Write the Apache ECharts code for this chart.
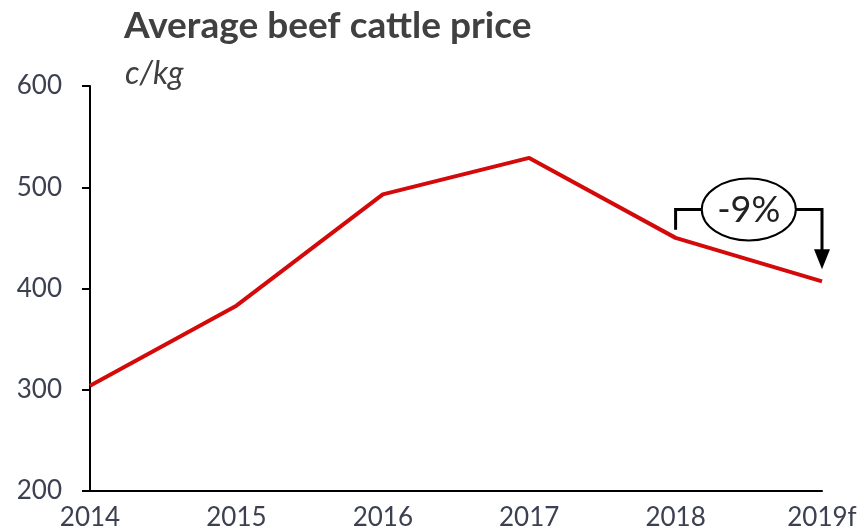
<!DOCTYPE html>
<html><head><meta charset="utf-8">
<script src="https://cdn.jsdelivr.net/npm/echarts@6/dist/echarts.min.js"></script>
<style>html,body{margin:0;padding:0;background:#fff}#c{width:860px;height:531px}</style>
</head><body><div id="c"></div>
<script>
const categories = ['2014','2015','2016','2017','2018','2019f'];
const prices = [304, 383, 493, 529, 450, 407];
const yTicks = [200, 300, 400, 500, 600];
const changeLabel = '-9%';
const bracketLevel = 478;   // c/kg level of bracket
const bracketStart = 458;   // left leg bottom
const arrowTip = 419;       // arrow tip level

const chart = echarts.init(document.getElementById('c'));
const font = 'Lato, "Open Sans", sans-serif';
chart.setOption({
  animation: false,
  backgroundColor: '#fff',
  title: [
    {text: 'Average beef cattle price', left: 119, top: 3,
     textStyle: {fontFamily: font, fontWeight: 'bold', fontSize: 37, color: '#404040'}},
    {text: 'c/kg', left: 120, top: 53,
     textStyle: {fontFamily: font, fontStyle: 'italic', fontWeight: 'normal', fontSize: 32, color: '#404040'}}
  ],
  grid: {left: 90, right: 38, top: 86, bottom: 39, containLabel: false},
  xAxis: {
    type: 'category', data: categories, boundaryGap: false,
    axisLine: {lineStyle: {color: '#000', width: 2}},
    axisTick: {show: false},
    axisLabel: {fontFamily: font, fontSize: 26, color: '#3c4050', margin: 14, interval: 0}
  },
  yAxis: {
    type: 'value', min: yTicks[0], max: yTicks[yTicks.length-1], interval: 100,
    axisLine: {show: true, lineStyle: {color: '#000', width: 2}},
    axisTick: {show: true, length: 8, lineStyle: {color: '#000', width: 2}},
    splitLine: {show: false},
    axisLabel: {fontFamily: font, fontSize: 26, color: '#3c4050', margin: 28}
  },
  series: [{
    type: 'line', data: prices, symbol: 'none',
    lineStyle: {color: '#d40a0a', width: 4}
  }]
});

const p = (i, v) => chart.convertToPixel({xAxisIndex: 0, yAxisIndex: 0}, [i, v]);
const a = p(4, bracketLevel), a0 = p(4, bracketStart);
const b = p(5, bracketLevel), bt = p(5, arrowTip);
const cx = (a[0] + b[0]) / 2, cy = a[1];
const rx = 47, ry = 31;
chart.setOption({
  graphic: [
    {type: 'polyline', shape: {points: [[a0[0], a0[1]], [a[0], a[1]], [cx - rx, cy]]},
     style: {stroke: '#000', lineWidth: 3, fill: null}},
    {type: 'polyline', shape: {points: [[cx + rx, cy], [b[0], b[1]], [b[0], bt[1] - 18]]},
     style: {stroke: '#000', lineWidth: 3, fill: null}},
    {type: 'polygon', shape: {points: [[b[0] - 8, bt[1] - 20], [b[0] + 8, bt[1] - 20], [b[0], bt[1]]]},
     style: {fill: '#000'}},
    {type: 'ellipse', shape: {cx: cx, cy: cy, rx: rx, ry: ry},
     style: {fill: '#fff', stroke: '#000', lineWidth: 2}},
    {type: 'text', x: cx, y: cy + 1,
     style: {text: changeLabel, font: '36px ' + font, fill: '#222', align: 'center', verticalAlign: 'middle'}}
  ]
});
</script>
</body></html>
